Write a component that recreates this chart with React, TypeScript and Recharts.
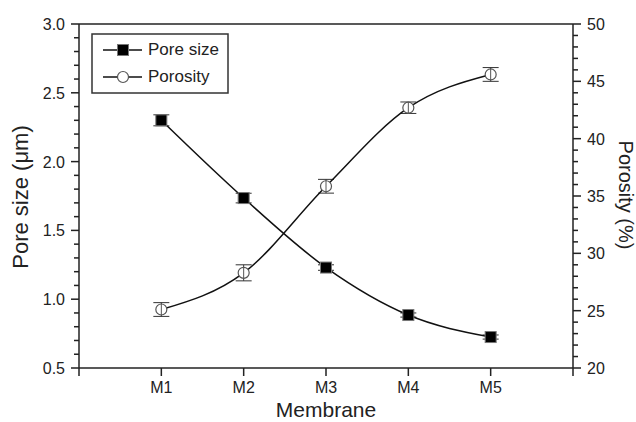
import React from 'react';
import { LineChart, Line, XAxis, YAxis, ErrorBar, ReferenceLine } from 'recharts';

const membranes = ['M1', 'M2', 'M3', 'M4', 'M5'];
const membranePos = [1, 2, 3, 4, 5];
const poreSize = [2.3, 1.735, 1.23, 0.885, 0.725];
const poreSizeErr = [0.04, 0.035, 0.02, 0.015, 0.015];
const porosity = [25.1, 28.3, 35.85, 42.7, 45.6];
const porosityErr = [0.6, 0.7, 0.6, 0.5, 0.6];

const xTicks = [0, 1, 2, 3, 4, 5, 6];
const poreTicks = [0.5, 0.6, 0.7, 0.8, 0.9, 1.0, 1.1, 1.2, 1.3, 1.4, 1.5, 1.6, 1.7, 1.8, 1.9, 2.0, 2.1, 2.2, 2.3, 2.4, 2.5, 2.6, 2.7, 2.8, 2.9, 3.0];
const poreMajor = [0.5, 1.0, 1.5, 2.0, 2.5, 3.0];
const porosityTicks = [20, 21, 22, 23, 24, 25, 26, 27, 28, 29, 30, 31, 32, 33, 34, 35, 36, 37, 38, 39, 40, 41, 42, 43, 44, 45, 46, 47, 48, 49, 50];
const porosityMajor = [20, 25, 30, 35, 40, 45, 50];

const FONT = '"Liberation Sans", Arial, sans-serif';
const AXIS = '#222';
const TEXT = '#222';

const data = membranes.map((m, i) => ({
  name: m,
  x: membranePos[i],
  pore: poreSize[i],
  poreErr: poreSizeErr[i],
  porosity: porosity[i],
  porosityErr: porosityErr[i],
}));

const isMajor = (list: number[], v: number) => list.some((m) => Math.abs(m - v) < 1e-6);

// ticks point outward: minor 5px, major 8px
const LeftTick = (props: any) => {
  const { x, y, payload } = props;
  const major = isMajor(poreMajor, payload.value);
  const len = major ? 8 : 5;
  return (
    <g>
      <rect x={x - len} y={y - 0.75} width={len} height={1.5} fill={AXIS} />
      {major && (
        <text x={x - 14} y={y} dy={6} textAnchor="end" fontSize={16} fill={TEXT} fontFamily={FONT}>
          {payload.value.toFixed(1)}
        </text>
      )}
    </g>
  );
};

const RightTick = (props: any) => {
  const { x, y, payload } = props;
  const major = isMajor(porosityMajor, payload.value);
  const len = major ? 8 : 5;
  return (
    <g>
      <rect x={x} y={y - 0.75} width={len} height={1.5} fill={AXIS} />
      {major && (
        <text x={x + 14} y={y} dy={6} textAnchor="start" fontSize={16} fill={TEXT} fontFamily={FONT}>
          {payload.value}
        </text>
      )}
    </g>
  );
};

const BottomTick = (props: any) => {
  const { x, y, payload } = props;
  const label = membranes[membranePos.indexOf(payload.value)];
  return (
    <g>
      <rect x={x - 0.75} y={y} width={1.5} height={8} fill={AXIS} />
      {label && (
        <text x={x} y={y + 25} textAnchor="middle" fontSize={16} fill={TEXT} fontFamily={FONT}>
          {label}
        </text>
      )}
    </g>
  );
};

const SquareDot = (props: any) => {
  const { cx, cy, index } = props;
  return <rect key={`s${index}`} x={cx - 5.5} y={cy - 5.5} width={11} height={11} fill="#000" stroke="#777" strokeWidth={1} />;
};

const CircleDot = (props: any) => {
  const { cx, cy, index } = props;
  return (
    <g key={`c${index}`}>
      <circle cx={cx} cy={cy} r={5.5} fill="#fff" stroke="#555" strokeWidth={1.2} />
      <line x1={cx} x2={cx} y1={cy - 5.5} y2={cy + 5.5} stroke="#555" strokeWidth={1} />
    </g>
  );
};

export default function App() {
  return (
    <div style={{ position: 'absolute', left: 0, top: 0, width: 636, height: 422, background: '#fff', fontFamily: FONT, overflow: 'hidden' }}>
      <LineChart width={636} height={422} data={data} margin={{ top: 24, right: 13, bottom: 14, left: 19 }}>
        <XAxis
          dataKey="x"
          type="number"
          domain={[0, 6]}
          ticks={xTicks}
          height={40}
          tickSize={0}
          tickMargin={0}
          tick={<BottomTick />}
          tickLine={false}
          axisLine={{ stroke: AXIS, strokeWidth: 1.5 }}
          interval={0}
        />
        <YAxis
          yAxisId="left"
          orientation="left"
          domain={[0.5, 3]}
          ticks={poreTicks}
          width={60}
          tickSize={0}
          tickMargin={0}
          tick={<LeftTick />}
          tickLine={false}
          axisLine={{ stroke: AXIS, strokeWidth: 1.5 }}
          interval={0}
          minTickGap={0}
          allowDataOverflow
        />
        <YAxis
          yAxisId="right"
          orientation="right"
          domain={[20, 50]}
          ticks={porosityTicks}
          width={50}
          tickSize={0}
          tickMargin={0}
          tick={<RightTick />}
          tickLine={false}
          axisLine={{ stroke: AXIS, strokeWidth: 1.5 }}
          interval={0}
          minTickGap={0}
          allowDataOverflow
        />
        <ReferenceLine yAxisId="left" y={3} stroke={AXIS} strokeWidth={1.5} />
        <Line
          yAxisId="left"
          dataKey="pore"
          type="monotone"
          stroke="#111"
          strokeWidth={1.5}
          dot={<SquareDot />}
          activeDot={false}
          isAnimationActive={false}
        >
          <ErrorBar dataKey="poreErr" direction="y" width={8} stroke="#333" strokeWidth={1} />
        </Line>
        <Line
          yAxisId="right"
          dataKey="porosity"
          type="monotone"
          stroke="#111"
          strokeWidth={1.5}
          dot={<CircleDot />}
          activeDot={false}
          isAnimationActive={false}
        >
          <ErrorBar dataKey="porosityErr" direction="y" width={8} stroke="#333" strokeWidth={1} />
        </Line>
      </LineChart>

      {/* legend */}
      <svg width={138} height={61} style={{ position: 'absolute', left: 91, top: 33 }}>
        <rect x={1} y={1} width={136} height={59} fill="#fff" stroke="#333" strokeWidth={1.5} />
        <line x1={12} x2={51} y1={17} y2={17} stroke="#111" strokeWidth={1.5} />
        <rect x={26.5} y={11.5} width={11} height={11} fill="#000" stroke="#777" strokeWidth={1} />
        <text x={57} y={22} fontSize={17} fill={TEXT} fontFamily={FONT}>Pore size</text>
        <line x1={12} x2={51} y1={44} y2={44} stroke="#111" strokeWidth={1.5} />
        <circle cx={32} cy={44} r={5.5} fill="#fff" stroke="#555" strokeWidth={1.2} />
        <text x={57} y={49} fontSize={17} fill={TEXT} fontFamily={FONT}>Porosity</text>
      </svg>

      {/* axis titles */}
      <svg width={636} height={422} style={{ position: 'absolute', left: 0, top: 0, pointerEvents: 'none' }}>
        <text x={0} y={0} transform="translate(28 197) rotate(-90)" textAnchor="middle" fontSize={22} fill={TEXT} fontFamily={FONT}>
          Pore size (μm)
        </text>
        <text x={0} y={0} transform="translate(619 195) rotate(90)" textAnchor="middle" fontSize={20} fill={TEXT} fontFamily={FONT}>
          Porosity (%)
        </text>
        <text x={326} y={417} textAnchor="middle" fontSize={21} fill={TEXT} fontFamily={FONT}>
          Membrane
        </text>
      </svg>
    </div>
  );
}
